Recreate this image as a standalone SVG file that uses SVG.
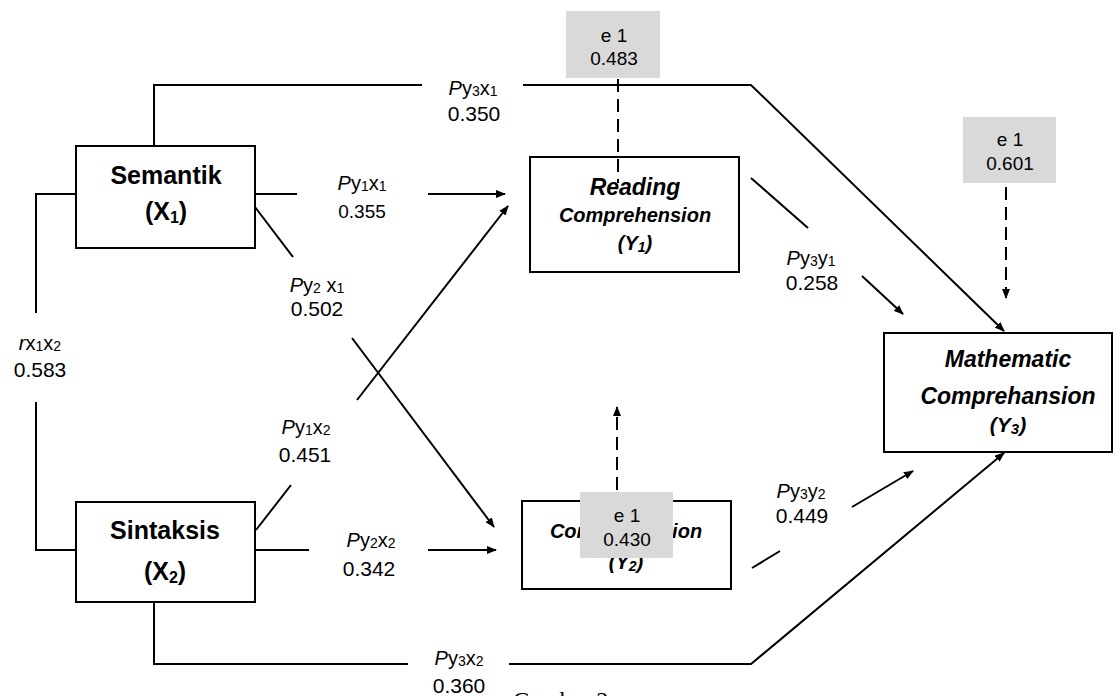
<svg xmlns="http://www.w3.org/2000/svg" width="1118" height="696" viewBox="0 0 1118 696">
<style>
.ln{stroke:#000;stroke-width:2;fill:none}
.dash{stroke-dasharray:13 7}
.box{fill:#fff;stroke:#000;stroke-width:2}
.ebox{fill:#d9d9d9}
.lbl{font-family:"Liberation Sans",Arial,sans-serif;font-size:20px;text-anchor:middle;fill:#000}
.num{font-family:"Liberation Sans",Arial,sans-serif;font-size:21px;text-anchor:middle;fill:#000}
.enum{font-family:"Liberation Sans",Arial,sans-serif;font-size:19px;text-anchor:middle;fill:#000}
.s{font-size:14px}
.nt{font-family:"Liberation Sans",Arial,sans-serif;font-weight:bold;text-anchor:middle;fill:#000}
.it{font-style:italic}
.cap{font-family:"Liberation Serif","Times New Roman",serif;font-size:24px;fill:#000}
</style>
<defs>
<marker id="arr" markerWidth="10" markerHeight="8" refX="9" refY="4" orient="auto" markerUnits="userSpaceOnUse"><path d="M0,0 L10,4 L0,8 z" fill="#000"/></marker>
</defs>

<g id="node-x1">
<rect class="box" x="76" y="146" width="179" height="102"/>
<text class="nt" x="166" y="184" font-size="25">Semantik</text>
<text class="nt" x="166" y="220" font-size="25">(X<tspan font-size="16" dy="3">1</tspan><tspan dy="-3">)</tspan></text>
</g>

<g id="node-x2">
<rect class="box" x="76" y="502" width="179" height="100"/>
<text class="nt" x="165" y="539" font-size="25">Sintaksis</text>
<text class="nt" x="165" y="580" font-size="25">(X<tspan font-size="16" dy="3">2</tspan><tspan dy="-3">)</tspan></text>
</g>

<g id="node-y1">
<rect class="box" x="530" y="157" width="209" height="115"/>
<text class="nt it" x="635" y="195" font-size="23">Reading</text>
<text class="nt it" x="635" y="222" font-size="20">Comprehension</text>
<text class="nt it" x="635" y="250" font-size="20">(Y<tspan font-size="14" dy="2">1</tspan><tspan dy="-2">)</tspan></text>
</g>

<g id="node-y2">
<rect class="box" x="522" y="501" width="209" height="88"/>
<text class="nt it" x="626" y="538" font-size="20">Comprehension</text>
<text class="nt it" x="626" y="569" font-size="20">(Y<tspan font-size="14" dy="2">2</tspan><tspan dy="-2">)</tspan></text>
</g>

<g id="node-y3">
<rect class="box" x="884" y="333" width="228" height="119"/>
<text class="nt it" x="1008" y="367" font-size="23">Mathematic</text>
<text class="nt it" x="1008" y="404" font-size="23">Comprehansion</text>
<text class="nt it" x="1008" y="432" font-size="21">(Y<tspan font-size="15" dy="2">3</tspan><tspan dy="-2">)</tspan></text>
</g>

<g id="connectors">
<path class="ln" d="M154,146 V85 H422"/>
<path class="ln" d="M523,85 H751 L1004,331" marker-end="url(#arr)"/>
<path class="ln" d="M255,194 H297"/>
<path class="ln" d="M428,194 H505" marker-end="url(#arr)"/>
<path class="ln" d="M255,207 L293,257"/>
<path class="ln" d="M352,338 L494,527" marker-end="url(#arr)"/>
<path class="ln" d="M256,530 L291,485"/>
<path class="ln" d="M357,400 L508,206" marker-end="url(#arr)"/>
<path class="ln" d="M255,550 H309"/>
<path class="ln" d="M428,550 H496" marker-end="url(#arr)"/>
<path class="ln" d="M154,602 V664 H408"/>
<path class="ln" d="M509,664 H751 L1004,453" marker-end="url(#arr)"/>
<path class="ln" d="M76,194 H36 V313"/>
<path class="ln" d="M36,402 V550 H76"/>
<path class="ln" d="M751,178 L808,228"/>
<path class="ln" d="M862,276 L903,314" marker-end="url(#arr)"/>
<path class="ln" d="M752,568 L780,551"/>
<path class="ln" d="M852,507 L913,471" marker-end="url(#arr)"/>
<path class="ln dash" d="M618,79 V183"/>
<path class="ln dash" d="M1006,187 V298" marker-end="url(#arr)"/>
<path class="ln dash" d="M617,490 V407" marker-end="url(#arr)"/>
</g>

<g id="labels">
<text class="lbl" x="473" y="95"><tspan class="it">P</tspan>y<tspan class="s" dy="1">3</tspan><tspan dy="-1">x</tspan><tspan class="s" dy="1">1</tspan></text>
<text class="num" x="474" y="121">0.350</text>
<text class="lbl" x="362" y="190"><tspan class="it">P</tspan>y<tspan class="s" dy="1">1</tspan><tspan dy="-1">x</tspan><tspan class="s" dy="1">1</tspan></text>
<text class="enum" x="362" y="218">0.355</text>
<text class="lbl" x="317" y="292"><tspan class="it">P</tspan>y<tspan class="s" dy="1">2</tspan><tspan dy="-1"> x</tspan><tspan class="s" dy="1">1</tspan></text>
<text class="num" x="317" y="316">0.502</text>
<text class="lbl" x="40" y="350"><tspan class="it">r</tspan>x<tspan class="s" dy="1">1</tspan><tspan dy="-1">x</tspan><tspan class="s" dy="1">2</tspan></text>
<text class="num" x="40" y="377">0.583</text>
<text class="lbl" x="306" y="434"><tspan class="it">P</tspan>y<tspan class="s" dy="1">1</tspan><tspan dy="-1">x</tspan><tspan class="s" dy="1">2</tspan></text>
<text class="num" x="305" y="462">0.451</text>
<text class="lbl" x="371" y="547"><tspan class="it">P</tspan>y<tspan class="s" dy="1">2</tspan><tspan dy="-1">x</tspan><tspan class="s" dy="1">2</tspan></text>
<text class="num" x="369" y="576">0.342</text>
<text class="lbl" x="459" y="665"><tspan class="it">P</tspan>y<tspan class="s" dy="1">3</tspan><tspan dy="-1">x</tspan><tspan class="s" dy="1">2</tspan></text>
<text class="num" x="459" y="693">0.360</text>
<text class="lbl" x="811" y="265"><tspan class="it">P</tspan>y<tspan class="s" dy="1">3</tspan><tspan dy="-1">y</tspan><tspan class="s" dy="1">1</tspan></text>
<text class="num" x="812" y="290">0.258</text>
<text class="lbl" x="801" y="498"><tspan class="it">P</tspan>y<tspan class="s" dy="1">3</tspan><tspan dy="-1">y</tspan><tspan class="s" dy="1">2</tspan></text>
<text class="num" x="802" y="523">0.449</text>
</g>

<g id="e1-y1">
<rect class="ebox" x="566" y="11" width="94" height="67"/>
<text class="enum" x="614" y="42">e 1</text>
<text class="enum" x="614" y="65">0.483</text>
</g>

<g id="e1-y3">
<rect class="ebox" x="963" y="117" width="93" height="66"/>
<text class="enum" x="1010" y="146">e 1</text>
<text class="enum" x="1010" y="170">0.601</text>
</g>

<g id="e1-y2">
<rect class="ebox" x="580" y="492" width="93" height="66"/>
<text class="enum" x="627" y="522">e 1</text>
<text class="enum" x="627" y="546">0.430</text>
</g>

<text class="cap" x="513" y="708">Gambar 2</text>
</svg>
